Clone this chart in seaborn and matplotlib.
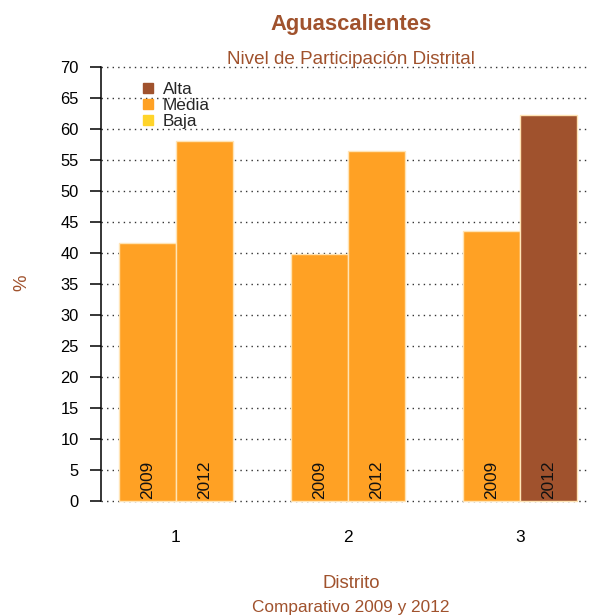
import matplotlib
matplotlib.use('Agg')
import matplotlib.pyplot as plt
from matplotlib.lines import Line2D
import pandas as pd
import seaborn as sns

# data
distritos = ['1', '2', '3']
anios = ['2009', '2012']
valores_2009 = [41.6, 39.8, 43.5]
valores_2012 = [58.0, 56.5, 62.2]
nivel_2009 = ['Media', 'Media', 'Media']
nivel_2012 = ['Media', 'Media', 'Alta']

niveles = ['Alta', 'Media', 'Baja']
colores = {'Alta': '#A0522D', 'Media': '#FFA124', 'Baja': '#FFD42A'}
cafe = '#A0522D'

data = pd.DataFrame({
    'distrito': distritos * 2,
    'anio': [anios[0]] * 3 + [anios[1]] * 3,
    'valor': valores_2009 + valores_2012,
    'nivel': nivel_2009 + nivel_2012,
})

sns.set_style('white')
plt.rcParams['font.family'] = ['Liberation Sans', 'DejaVu Sans']

W, H = 590, 615
fig = plt.figure(figsize=(W / 100, H / 100), dpi=100)
# axes placed in pixel terms of the reference
ax = fig.add_axes([101 / W, (H - 518.4) / H, 500 / W, 468.8 / H])

sns.barplot(data=data, x='distrito', y='valor', hue='anio', order=distritos,
            hue_order=anios, width=0.663, gap=0, legend=False,
            edgecolor='#FFE4B5', linewidth=1, ax=ax, zorder=2)

# recolor each bar by participation level and write the year inside
for anio, cont in zip(anios, ax.containers):
    sub = data[data['anio'] == anio].set_index('distrito').loc[distritos]
    for bar, niv in zip(cont, sub['nivel']):
        bar.set_facecolor(colores[niv])
        cx = bar.get_x() + bar.get_width() / 2
        ax.text(cx, 0.3, anio, rotation=90, ha='center', va='bottom',
                fontsize=12.4, color='#111111', zorder=3)

ax.set_xlim(-0.436, 2.471)
ax.set_ylim(-2.8, 72.8)
ax.set_yticks(range(0, 75, 5))
ax.yaxis.grid(True, linestyle=(0, (1, 3)), color='#333333', linewidth=1)
ax.xaxis.grid(False)
ax.set_axisbelow(True)

for s in ['top', 'right', 'bottom']:
    ax.spines[s].set_visible(False)
ax.spines['left'].set_bounds(0, 70)
ax.spines['left'].set_color('black')
ax.spines['left'].set_linewidth(1.1)

ax.tick_params(axis='y', direction='out', length=8, width=1.1, pad=8,
               labelsize=11.9, left=True, colors='black')
ax.tick_params(axis='x', length=0, pad=8.7, labelsize=12.4, colors='black')
ax.set_xlabel('')
ax.set_ylabel('')

handles = [Line2D([], [], marker='s', linestyle='none', markersize=6.8,
                  markerfacecolor=colores[n], markeredgecolor=colores[n])
           for n in niveles]
leg = ax.legend(handles, niveles, loc='upper left',
                bbox_to_anchor=(141 / W, 1 - 81.5 / H), bbox_transform=fig.transFigure,
                frameon=False, fontsize=12.4, handlelength=0.8, handletextpad=0.47,
                labelspacing=0.08, borderpad=0, borderaxespad=0)

cx = 351 / W
fig.text(cx, 1 - 30 / H, 'Aguascalientes', ha='center', va='baseline',
         fontsize=15.8, fontweight='bold', color=cafe)
fig.text(cx, 1 - 64 / H, 'Nivel de Participación Distrital', ha='center',
         va='baseline', fontsize=13.6, color=cafe)
fig.text(cx, 1 - 588 / H, 'Distrito', ha='center', va='baseline',
         fontsize=13.4, color=cafe)
fig.text(cx, 1 - 612 / H, 'Comparativo 2009 y 2012', ha='center',
         va='baseline', fontsize=12.4, color=cafe)
fig.text(22 / W, 1 - 283 / H, '%', rotation=90, ha='center', va='center',
         fontsize=13.4, color=cafe)

fig.savefig('out.png', dpi=100)
